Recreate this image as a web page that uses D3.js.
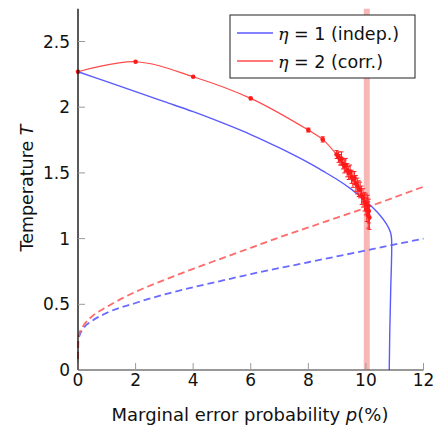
<!DOCTYPE html>
<html>
<head>
<meta charset="utf-8">
<script src="https://cdn.jsdelivr.net/npm/d3@7"></script>
<style>
  html, body { margin: 0; padding: 0; background: #fff; }
  svg { display: block; }
  text { font-family: "DejaVu Sans", sans-serif; fill: #111; }
</style>
</head>
<body>
<svg id="chart" width="436" height="428"></svg>
<script>
// ---- data ----
const xTicks = [0, 2, 4, 6, 8, 10, 12];
const yTicks = [0, 0.5, 1, 1.5, 2, 2.5];
const yTickLabels = ["0", "0.5", "1", "1.5", "2", "2.5"];

// eta = 1 (independent), solid critical line
const indepP = [0, 1, 2, 3, 4, 5, 6, 7, 8, 8.5, 9, 9.5, 10.0, 10.4, 10.7, 10.85, 10.89, 10.86, 10.83, 10.81];
const indepT = [2.27, 2.194, 2.118, 2.042, 1.966, 1.882, 1.792, 1.69, 1.578, 1.515, 1.45, 1.375, 1.285, 1.2, 1.115, 1.05, 1.0, 0.6, 0.3, 0];

// eta = 2 (correlated), data points with error bars
const corrP = [0, 2, 4, 6, 8, 8.5, 8.98, 9.05, 9.1, 9.15, 9.2, 9.25, 9.3, 9.35, 9.4, 9.45, 9.5, 9.55, 9.6, 9.65, 9.7, 9.75, 9.8, 9.85, 9.9, 9.95, 10.0, 10.03, 10.06, 10.08, 10.1, 10.12];
const corrT = [2.27, 2.346, 2.232, 2.067, 1.826, 1.755, 1.64, 1.62, 1.60, 1.61, 1.57, 1.55, 1.56, 1.52, 1.50, 1.51, 1.47, 1.45, 1.46, 1.42, 1.40, 1.38, 1.37, 1.33, 1.31, 1.28, 1.26, 1.22, 1.25, 1.18, 1.21, 1.16];
const corrErr = [0, 0, 0, 0, 0.015, 0.02, 0.03, 0.04, 0.04, 0.05, 0.04, 0.05, 0.05, 0.05, 0.05, 0.05, 0.05, 0.06, 0.05, 0.06, 0.06, 0.06, 0.06, 0.07, 0.07, 0.07, 0.08, 0.09, 0.08, 0.10, 0.09, 0.09];

// dashed (Nishimori-type) lines
const nishP1 = [0, 0.01, 0.05, 0.2, 0.5, 1, 2, 3, 4, 5, 6, 8, 10, 12];
const nishT1 = [0, 0.22, 0.26, 0.32, 0.375, 0.435, 0.51, 0.575, 0.63, 0.68, 0.73, 0.82, 0.91, 1.00];
const nishP2 = [0, 0.01, 0.05, 0.2, 0.5, 1, 2, 3, 4, 5, 6, 7, 8, 9, 10, 11, 12];
const nishT2 = [0, 0.23, 0.28, 0.34, 0.41, 0.48, 0.595, 0.685, 0.77, 0.85, 0.93, 1.01, 1.085, 1.16, 1.235, 1.315, 1.395];

// vertical highlighted threshold
const thresholdP = 10.03;

const legendLabels = [["1", "(indep.)"], ["2", "(corr.)"]];

// ---- drawing ----
const svg = d3.select("#chart");
const x = d3.scaleLinear().domain([0, 12]).range([78, 423.5]);
const y = d3.scaleLinear().domain([0, 2.5]).range([370, 41.5]);
const yTop = 2.75;

const blue = "#5a5aff", red = "#ff4a4a";

// threshold band
svg.append("line")
  .attr("x1", x(thresholdP)).attr("x2", x(thresholdP))
  .attr("y1", y(0)).attr("y2", y(yTop))
  .attr("stroke", "#f7b7b7").attr("stroke-width", 6);

// dashed lines
const lineGen = (P, T, curve) => d3.line().x((d, i) => x(P[i])).y((d, i) => y(T[i])).curve(curve)(P);
svg.append("path").attr("d", lineGen(nishP1, nishT1, d3.curveMonotoneX))
  .attr("fill", "none").attr("stroke", "#6b6bff").attr("stroke-width", 1.8).attr("stroke-dasharray", "7,4");
svg.append("path").attr("d", lineGen(nishP2, nishT2, d3.curveMonotoneX))
  .attr("fill", "none").attr("stroke", "#ff6b6b").attr("stroke-width", 1.8).attr("stroke-dasharray", "7,4");

// blue solid
svg.append("path").attr("d", lineGen(indepP, indepT, d3.curveCatmullRom.alpha(0.5)))
  .attr("fill", "none").attr("stroke", blue).attr("stroke-width", 1.4);

// red solid
svg.append("path").attr("d", lineGen(corrP, corrT, d3.curveCatmullRom.alpha(0.5)))
  .attr("fill", "none").attr("stroke", red).attr("stroke-width", 1.2);

// error bars
const eb = svg.append("g").attr("stroke", "#ff2020").attr("stroke-width", 1);
corrP.forEach((p, i) => {
  const e = corrErr[i];
  if (e <= 0) return;
  const cx = x(p), y1 = y(corrT[i] - e), y2 = y(corrT[i] + e);
  eb.append("line").attr("x1", cx).attr("x2", cx).attr("y1", y1).attr("y2", y2);
  eb.append("line").attr("x1", cx - 2).attr("x2", cx + 2).attr("y1", y1).attr("y2", y1);
  eb.append("line").attr("x1", cx - 2).attr("x2", cx + 2).attr("y1", y2).attr("y2", y2);
});
svg.append("g").selectAll("circle").data(corrP).join("circle")
  .attr("cx", d => x(d)).attr("cy", (d, i) => y(corrT[i])).attr("r", 2.3).attr("fill", "#ff1a1a");

// axes
const ax = svg.append("g");
ax.append("line").attr("x1", x(0)).attr("x2", x(12)).attr("y1", y(0)).attr("y2", y(0))
  .attr("stroke", "#333").attr("stroke-width", 1.2);
ax.append("line").attr("x1", x(0)).attr("x2", x(0)).attr("y1", y(0)).attr("y2", y(yTop))
  .attr("stroke", "#000").attr("stroke-width", 1.3);
ax.selectAll(".xt").data(xTicks).join("line")
  .attr("x1", d => x(d)).attr("x2", d => x(d)).attr("y1", y(0)).attr("y2", y(0) - 7)
  .attr("stroke", "#9a9a9a").attr("stroke-width", 1);
ax.selectAll(".yt").data(yTicks.slice(1)).join("line")
  .attr("x1", x(0)).attr("x2", x(0) + 7).attr("y1", d => y(d)).attr("y2", d => y(d))
  .attr("stroke", "#9a9a9a").attr("stroke-width", 1);
ax.selectAll(".xl").data(xTicks).join("text")
  .attr("x", d => x(d)).attr("y", 386).attr("text-anchor", "middle")
  .attr("font-size", 17).text(d => d);
ax.selectAll(".yl").data(yTicks).join("text")
  .attr("x", 70).attr("y", d => y(d) + 6).attr("text-anchor", "end")
  .attr("font-size", 17).text((d, i) => yTickLabels[i]);

// axis labels
const xl = svg.append("text").attr("x", 250).attr("y", 421).attr("text-anchor", "middle").attr("font-size", 18);
xl.append("tspan").text("Marginal error probability ");
xl.append("tspan").attr("font-style", "italic").text("p");
xl.append("tspan").text("(%)");
const yl = svg.append("text").attr("transform", "translate(33,188) rotate(-90)").attr("text-anchor", "middle").attr("font-size", 17.5);
yl.append("tspan").text("Temperature ");
yl.append("tspan").attr("font-style", "italic").text("T");

// legend
const lg = svg.append("g");
lg.append("rect").attr("x", 230).attr("y", 15).attr("width", 185).attr("height", 63)
  .attr("fill", "#fff").attr("stroke", "#222").attr("stroke-width", 1);
[[blue, 33], [red, 61]].forEach(([c, yy], i) => {
  lg.append("line").attr("x1", 237).attr("x2", 273).attr("y1", yy).attr("y2", yy)
    .attr("stroke", c).attr("stroke-width", 1.3);
  const t = lg.append("text").attr("x", 278).attr("y", yy + 7).attr("font-size", 17.5);
  t.append("tspan").attr("font-style", "italic").attr("font-family", "DejaVu Serif").text("η");
  t.append("tspan").text(" = " + legendLabels[i][0] + " " + legendLabels[i][1]);
});
</script>
</body>
</html>
